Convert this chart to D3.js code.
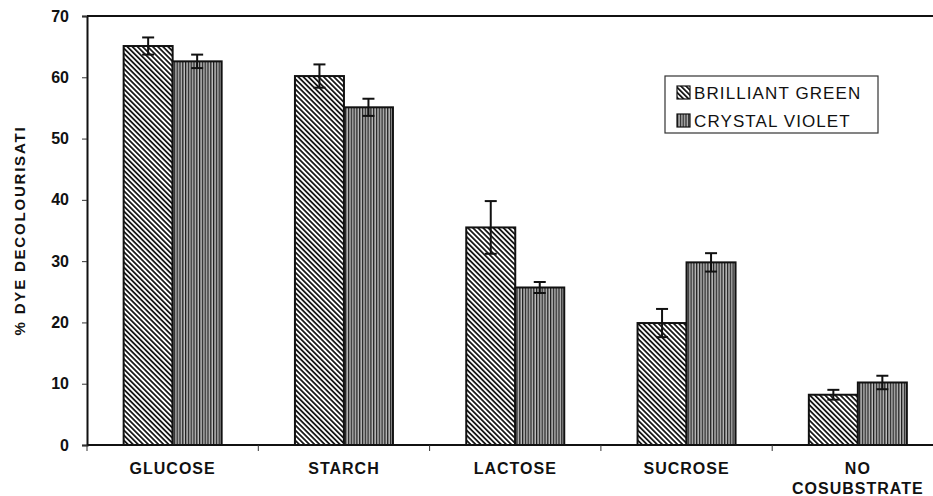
<!DOCTYPE html>
<html>
<head>
<meta charset="utf-8">
<script src="https://cdn.jsdelivr.net/npm/d3@7"></script>
<style>
  body { margin: 0; background: #fff; }
  svg { display: block; font-family: "Liberation Sans", Arial, sans-serif; }
  .tick text { font-weight: bold; }
</style>
</head>
<body>
<svg width="933" height="496"></svg>
<script>
// data
const categories = ['GLUCOSE', 'STARCH', 'LACTOSE', 'SUCROSE', 'NO COSUBSTRATE'];
const seriesNames = ['BRILLIANT GREEN', 'CRYSTAL VIOLET'];
const brilliantGreen = [65.1, 60.2, 35.5, 19.9, 8.2];
const brilliantGreenErr = [1.4, 1.9, 4.3, 2.3, 0.8];
const crystalViolet = [62.6, 55.1, 25.7, 29.8, 10.2];
const crystalVioletErr = [1.1, 1.4, 0.9, 1.5, 1.1];
const yTicks = [0, 10, 20, 30, 40, 50, 60, 70];

const svg = d3.select('svg');
const plotLeft = 87, plotTop = 16, plotBottom = 445;
const catStep = 171.3;
const plotRight = plotLeft + catStep * categories.length;

const sample = categories.map((c, i) => ({
  cat: c,
  vals: [
    { s: seriesNames[0], v: brilliantGreen[i], e: brilliantGreenErr[i] },
    { s: seriesNames[1], v: crystalViolet[i], e: crystalVioletErr[i] }
  ]
}));

const xScale = d3.scaleBand().domain(categories).range([plotLeft, plotRight]).padding(0);
const xSub = d3.scaleBand().domain(seriesNames).range([0, xScale.bandwidth()])
  .paddingInner(0).paddingOuter(0.748);
const yScale = d3.scaleLinear().domain([0, 70]).range([plotBottom, plotTop]);

// hatch patterns
const defs = svg.append('defs');
const diag = defs.append('pattern')
  .attr('id', 'diag').attr('patternUnits', 'userSpaceOnUse')
  .attr('width', 3.6).attr('height', 3.6)
  .attr('patternTransform', 'rotate(45)');
diag.append('rect').attr('width', 3.6).attr('height', 3.6).attr('fill', '#fff');
diag.append('rect').attr('width', 3.6).attr('height', 1.8).attr('fill', '#1a1a1a');

const vert = defs.append('pattern')
  .attr('id', 'vert').attr('patternUnits', 'userSpaceOnUse')
  .attr('width', 2.8).attr('height', 10);
vert.append('rect').attr('width', 2.8).attr('height', 10).attr('fill', '#bdbdbd');
vert.append('rect').attr('width', 1.3).attr('height', 10).attr('fill', '#1e1e1e');

const fills = { 'BRILLIANT GREEN': 'url(#diag)', 'CRYSTAL VIOLET': 'url(#vert)' };

// frame: top line
svg.append('line')
  .attr('x1', plotLeft).attr('x2', 933).attr('y1', plotTop).attr('y2', plotTop)
  .attr('stroke', '#111').attr('stroke-width', 2);

// y axis
const yAxis = svg.append('g')
  .attr('transform', `translate(${plotLeft},0)`)
  .call(d3.axisLeft(yScale).tickValues(yTicks).tickSize(5).tickPadding(13));
yAxis.select('.domain').attr('stroke', '#111').attr('stroke-width', 2);
yAxis.selectAll('.tick line').attr('stroke', '#333');
yAxis.selectAll('.tick text').attr('font-size', 16).attr('fill', '#111');

// bars
const groups = svg.selectAll('.grp')
  .data(sample)
  .enter()
  .append('g')
  .attr('class', 'grp')
  .attr('transform', (d) => `translate(${xScale(d.cat)},0)`);

groups.selectAll('rect')
  .data((d) => d.vals)
  .enter()
  .append('rect')
  .attr('x', (d) => xSub(d.s))
  .attr('y', (d) => yScale(d.v))
  .attr('width', xSub.bandwidth())
  .attr('height', (d) => plotBottom - yScale(d.v))
  .attr('fill', (d) => fills[d.s])
  .attr('stroke', '#111')
  .attr('stroke-width', 2);

// error bars
const errs = groups.selectAll('.err')
  .data((d) => d.vals)
  .enter()
  .append('g')
  .attr('class', 'err')
  .attr('stroke', '#111')
  .attr('stroke-width', 2);
const cx = (d) => xSub(d.s) + xSub.bandwidth() / 2;
errs.append('line')
  .attr('x1', cx).attr('x2', cx)
  .attr('y1', (d) => yScale(d.v + d.e)).attr('y2', (d) => yScale(d.v - d.e));
errs.append('line')
  .attr('x1', (d) => cx(d) - 6).attr('x2', (d) => cx(d) + 6)
  .attr('y1', (d) => yScale(d.v + d.e)).attr('y2', (d) => yScale(d.v + d.e));
errs.append('line')
  .attr('x1', (d) => cx(d) - 6).attr('x2', (d) => cx(d) + 6)
  .attr('y1', (d) => yScale(d.v - d.e)).attr('y2', (d) => yScale(d.v - d.e));

// x axis
const xAxis = svg.append('g')
  .attr('transform', `translate(0,${plotBottom})`);
xAxis.append('line')
  .attr('x1', plotLeft).attr('x2', 933).attr('y1', 0).attr('y2', 0)
  .attr('stroke', '#111').attr('stroke-width', 2);
xAxis.selectAll('.xtick')
  .data(categories)
  .enter()
  .append('line')
  .attr('x1', (d) => xScale(d)).attr('x2', (d) => xScale(d))
  .attr('y1', 0).attr('y2', 6)
  .attr('stroke', '#333');

const catLabels = xAxis.selectAll('.xlab')
  .data(categories)
  .enter()
  .append('text')
  .attr('x', (d) => xScale(d) + xScale.bandwidth() / 2)
  .attr('y', 29)
  .attr('text-anchor', 'middle')
  .attr('font-size', 16)
  .attr('font-weight', 'bold')
  .attr('letter-spacing', 1)
  .attr('fill', '#111');
catLabels.each(function (d) {
  const words = d === 'NO COSUBSTRATE' ? ['NO', 'COSUBSTRATE'] : [d];
  const t = d3.select(this);
  words.forEach((w, i) => {
    t.append('tspan')
      .attr('x', xScale(d) + xScale.bandwidth() / 2)
      .attr('dy', i === 0 ? 0 : 20)
      .text(w);
  });
});

// y label
svg.append('text')
  .attr('transform', `translate(25,${(plotTop + plotBottom) / 2}) rotate(-90)`)
  .attr('text-anchor', 'middle')
  .attr('font-size', 15)
  .attr('font-weight', 'bold')
  .attr('letter-spacing', 1.8)
  .attr('fill', '#111')
  .text('% DYE DECOLOURISATI');

// legend
const legend = svg.append('g').attr('transform', 'translate(665,76)');
legend.append('rect')
  .attr('width', 213).attr('height', 57)
  .attr('fill', '#fff').attr('stroke', '#333').attr('stroke-width', 1.2);
const items = legend.selectAll('.item')
  .data(seriesNames)
  .enter()
  .append('g')
  .attr('transform', (d, i) => `translate(12,${10 + i * 28})`);
items.append('rect')
  .attr('width', 13).attr('height', 13)
  .attr('fill', (d) => fills[d])
  .attr('stroke', '#111').attr('stroke-width', 1.2);
items.append('text')
  .attr('x', 17).attr('y', 12.5)
  .attr('font-size', 17)
  .attr('letter-spacing', 1.1)
  .attr('fill', '#111')
  .text((d) => d);
</script>
</body>
</html>
